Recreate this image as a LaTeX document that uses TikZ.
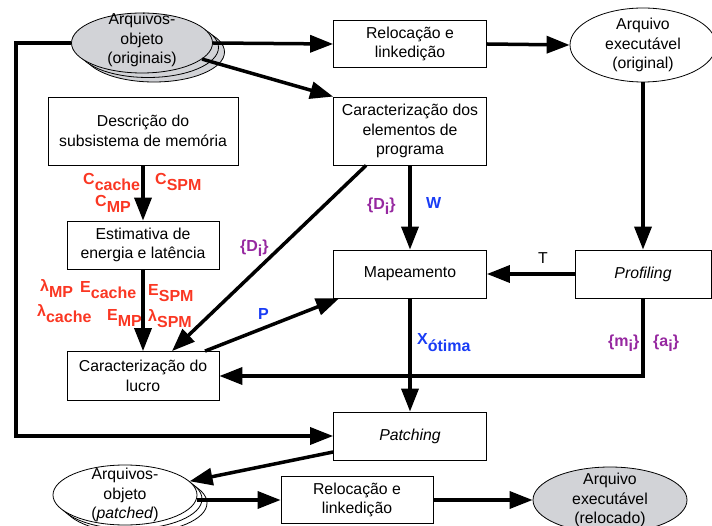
\documentclass[tikz,border=0pt]{standalone}
\usepackage{fontspec}
\setmainfont{Liberation Sans}
\usetikzlibrary{arrows.meta, positioning, shapes.geometric, calc}
\definecolor{lblRed}{RGB}{250,55,35}
\definecolor{lblBlue}{RGB}{25,60,245}
\definecolor{lblPurple}{RGB}{150,40,160}
\definecolor{fileGray}{RGB}{210,211,215}
\newcommand{\subtxt}[2]{#1\raisebox{-6pt}{#2}}

\begin{document}
\begin{tikzpicture}[x=1pt, y=-1pt,
    font=\fontsize{15.8}{19.5}\selectfont,
    procbox/.style={draw, line width=0.8pt, align=center, minimum width=153pt, minimum height=48pt},
    fileshape/.style={draw, ellipse, line width=0.8pt, inner sep=0pt},
    flow/.style={line width=3.5pt, -{Triangle[length=23pt, width=17pt]}},
    lbl/.style={font=\fontsize{16}{19}\selectfont\bfseries, inner sep=0pt, anchor=base west}]
    \useasboundingbox (0,0) rectangle (712,526);
    % object files and the first link step
    \node[fileshape, fill=fileGray, minimum width=141pt, minimum height=60pt] (objorigc) at (154,52) {};
    \node[fileshape, fill=fileGray, minimum width=141pt, minimum height=60pt] (objorigb) at (148,47.5) {};
    \node[fileshape, fill=fileGray, minimum width=141pt, minimum height=60pt,
      label={[align=center, yshift=3pt]center:Arquivos-\\objeto\\(originais)}] (objorig) at (142,43) {};
    \node[procbox, minimum height=47pt] (reloc) at (410,44) {Relocação e\\linkedição};
    \node[fileshape, minimum width=146pt, minimum height=74pt,
      label={[align=center]center:Arquivo\\executável\\(original)}] (execorig) at (643,45) {};
    % analysis boxes
    \node[procbox, minimum width=190pt, minimum height=68pt] (descr) at (143,131) {Descrição do\\subsistema de memória};
    \node[procbox, minimum height=68pt] (caract) at (410,131) {Caracterização dos\\elementos de\\programa};
    \node[procbox, minimum width=152pt] (estim) at (143,245) {Estimativa de\\energia e latência};
    \node[procbox] (mapeam) at (410,274) {Mapeamento};
    \node[procbox, minimum width=136pt] (profil) at (643,274) {\textit{Profiling}};
    \node[procbox, minimum width=152pt, minimum height=49pt] (lucro) at (143,376) {Caracterização do\\lucro};
    \node[procbox] (patching) at (410,436) {\textit{Patching}};
    % patched files and the second link step
    \node[fileshape, minimum width=144pt, minimum height=60pt] (patchedc) at (135,503) {};
    \node[fileshape, minimum width=144pt, minimum height=60pt] (patchedb) at (130,499) {};
    \node[fileshape, fill=white, minimum width=144pt, minimum height=60pt,
      label={[align=center]center:Arquivos-\\objeto\\(\textit{patched})}] (patched) at (125,495) {};
    \node[procbox, minimum width=152pt, minimum height=47pt] (reloc2) at (357,500) {Relocação e\\linkedição};
    \node[fileshape, fill=fileGray, minimum width=154pt, minimum height=66pt,
      label={[align=center]center:Arquivo\\executável\\(relocado)}] (execreloc) at (610,500) {};
    \coordinate (leftrail) at (16,0);

    % connectors
    \draw[flow] (objorig.east) -- (reloc.west);
    \draw[flow] (reloc.east) -- (execorig.west);
    \draw[flow] (objorig.-15) -- (caract.north west);
    \draw[flow] (objorig.west) -- (leftrail |- objorig.west) -- (leftrail |- patching.west) -- (patching.west);
    \draw[flow] (execorig.south) -- (profil.north);
    \draw[flow] (descr.south) -- (estim.north);
    \draw[flow] (estim.south) -- (lucro.north);
    \draw[flow] (caract.south) -- (mapeam.north);
    \draw[flow] ([xshift=33pt]caract.south west) -- ([xshift=29pt]lucro.north);
    \draw[flow] ([xshift=62pt]lucro.north) -- ([xshift=6pt]mapeam.south west);
    \draw[flow] (profil.west) -- (mapeam.east);
    \draw[flow] (profil.south) |- (lucro.east);
    \draw[flow] (mapeam.south) -- (patching.north);
    \draw[flow] ([yshift=-16pt]patching.west) -- (patched.12);
    \draw[flow] (patched.east |- reloc2.west) -- (reloc2.west);
    \draw[flow] (reloc2.east) -- (execreloc.west);

    % parameter labels
    \node[lbl, lblRed] (ccache) at (83,185) {\subtxt{C}{cache}};
    \node[lbl, lblRed] (cspm) at (155,185) {\subtxt{C}{SPM}};
    \node[lbl, lblRed] (cmp) at (95,207) {\subtxt{C}{MP}};
    \node[lbl, lblRed] (lmp) at (40,292) {\subtxt{λ}{MP}};
    \node[lbl, lblRed] (ecache) at (80,293) {\subtxt{E}{cache}};
    \node[lbl, lblRed] (espm) at (148,296) {\subtxt{E}{SPM}};
    \node[lbl, lblRed] (lcache) at (37,317) {\subtxt{λ}{cache}};
    \node[lbl, lblRed] (emp) at (107,321) {\subtxt{E}{MP}};
    \node[lbl, lblRed] (lspm) at (148,322) {\subtxt{λ}{SPM}};
    \node[lbl, lblPurple] (dileft) at (240,252) {\{D\raisebox{-5pt}{i}\}};
    \node[lbl, lblBlue] (plbl) at (258,320) {P};
    \node[lbl, lblPurple] (diright) at (367,210) {\{D\raisebox{-5pt}{i}\}};
    \node[lbl, lblBlue] (wlbl) at (426,209) {W};
    \node[inner sep=0pt, anchor=base west] (tlbl) at (538,264) {T};
    \node[lbl, lblBlue] (xotima) at (417,345) {\subtxt{X}{ótima}};
    \node[lbl, lblPurple] (mi) at (608,347) {\{m\raisebox{-5pt}{i}\}};
    \node[lbl, lblPurple] (ai) at (653,347) {\{a\raisebox{-5pt}{i}\}};
  \end{tikzpicture}
\end{document}
